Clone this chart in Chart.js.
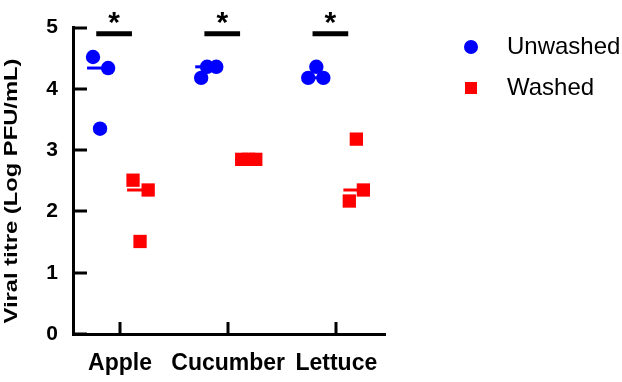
<!DOCTYPE html>
<html>
<head>
<meta charset="utf-8">
<script src="https://cdn.jsdelivr.net/npm/chart.js@4/dist/chart.umd.min.js"></script>
<style>
  html, body { margin: 0; padding: 0; background: #fff; }
  #wrap { width: 622px; height: 382px; }
</style>
</head>
<body>
<div id="wrap"><canvas id="c" width="622" height="382"></canvas></div>
<script>
// ---- data ----
const categories = ['Apple', 'Cucumber', 'Lettuce'];
const yTickValues = [0, 1, 2, 3, 4, 5];
const seriesNames = ['Unwashed', 'Washed'];
const unwashedApple = [4.52, 4.34, 3.35];
const unwashedCucumber = [4.36, 4.36, 4.18];
const unwashedLettuce = [4.36, 4.18, 4.18];
const washedApple = [2.51, 2.35, 1.51];
const washedCucumber = [2.85, 2.85, 2.85];
const washedLettuce = [3.18, 2.35, 2.17];
const significance = ['*', '*', '*'];
const significanceLevel = 4.9;

// ---- layout (jitter of points within each group, in category units) ----
const unwashedJitter = [[-0.25, -0.11, -0.185], [-0.195, -0.11, -0.25], [-0.185, -0.26, -0.12]];
const washedJitter = [[0.12, 0.26, 0.185], [0.125, 0.19, 0.255], [0.185, 0.25, 0.12]];
const groupOffset = 0.185;
const medianHalf = 0.12;
const barFrom = -0.22, barTo = 0.11;

const BLUE = '#0000FF', RED = '#FF0000';
const FONT = '"Liberation Sans", Arial, Helvetica, sans-serif';

const unwashed = [unwashedApple, unwashedCucumber, unwashedLettuce];
const washed = [washedApple, washedCucumber, washedLettuce];

function median(arr) {
  const s = arr.slice().sort((a, b) => a - b);
  const m = Math.floor(s.length / 2);
  return s.length % 2 ? s[m] : (s[m - 1] + s[m]) / 2;
}
function pts(groups, jit) {
  const out = [];
  groups.forEach((g, i) => g.forEach((v, j) => out.push({ x: i + 1 + jit[i][j], y: v })));
  return out;
}

const datasets = [
  {
    label: seriesNames[0], data: pts(unwashed, unwashedJitter),
    pointStyle: 'circle', pointRadius: 7.2, pointHoverRadius: 7.2,
    backgroundColor: BLUE, borderColor: BLUE, borderWidth: 0, showLine: false, order: 0, clip: false
  },
  {
    label: seriesNames[1], data: pts(washed, washedJitter),
    pointStyle: 'rect', pointRadius: 9.4, pointHoverRadius: 9.4,
    backgroundColor: RED, borderColor: RED, borderWidth: 0, showLine: false, order: 0, clip: false
  }
];
// median lines and significance bars
categories.forEach((c, i) => {
  const mu = median(unwashed[i]);
  const mw = median(washed[i]);
  datasets.push({
    label: 'median-u', data: [{ x: i + 1 - groupOffset - medianHalf, y: mu }, { x: i + 1 - groupOffset + medianHalf, y: mu }],
    showLine: true, borderColor: BLUE, borderWidth: 3, pointRadius: 0, order: 1, clip: false
  });
  datasets.push({
    label: 'median-w', data: [{ x: i + 1 + groupOffset - medianHalf, y: mw }, { x: i + 1 + groupOffset + medianHalf, y: mw }],
    showLine: true, borderColor: RED, borderWidth: 3, pointRadius: 0, order: 1, clip: false
  });
  datasets.push({
    label: 'sig', data: [{ x: i + 1 + barFrom, y: significanceLevel }, { x: i + 1 + barTo, y: significanceLevel }],
    showLine: true, borderColor: '#000', borderWidth: 5, borderCapStyle: 'butt', pointRadius: 0, order: 1, clip: false
  });
});

const decorPlugin = {
  id: 'decor',
  afterDraw(chart) {
    const ctx = chart.ctx;
    const xs = chart.scales.x, ys = chart.scales.y;
    const left = chart.chartArea.left, bottom = chart.chartArea.bottom;
    ctx.save();
    ctx.strokeStyle = '#000';
    ctx.lineWidth = 3;
    ctx.lineCap = 'butt';
    // inward ticks on y
    yTickValues.forEach(v => {
      const y = Math.round(ys.getPixelForValue(v));
      ctx.beginPath(); ctx.moveTo(left, y); ctx.lineTo(left + 14, y); ctx.stroke();
    });
    // inward ticks on x
    categories.forEach((c, i) => {
      const x = Math.round(xs.getPixelForValue(i + 1));
      ctx.beginPath(); ctx.moveTo(x, bottom); ctx.lineTo(x, bottom - 12); ctx.stroke();
    });
    // asterisks
    ctx.fillStyle = '#000';
    ctx.font = 'bold 30px ' + FONT;
    ctx.textAlign = 'center';
    ctx.textBaseline = 'alphabetic';
    significance.forEach((s, i) => {
      const x = xs.getPixelForValue(i + 1 + (barFrom + barTo) / 2);
      const y = ys.getPixelForValue(significanceLevel);
      ctx.fillText(s, x, y - 2);
    });
    // y-axis title
    ctx.save();
    ctx.translate(12, 191);
    ctx.rotate(-Math.PI / 2);
    ctx.font = 'bold 19px ' + FONT;
    const title = 'Viral titre (Log PFU/mL)';
    const w = ctx.measureText(title).width;
    ctx.scale(265 / w, 1);
    ctx.textAlign = 'center';
    ctx.textBaseline = 'middle';
    ctx.fillText(title, 0, 0);
    ctx.restore();
    // legend
    const ds0 = chart.data.datasets[0], ds1 = chart.data.datasets[1];
    ctx.font = '24px ' + FONT;
    ctx.textAlign = 'left';
    ctx.textBaseline = 'middle';
    ctx.fillStyle = ds0.backgroundColor;
    ctx.beginPath(); ctx.arc(471, 47, 7, 0, Math.PI * 2); ctx.fill();
    ctx.fillStyle = '#000';
    ctx.fillText(ds0.label, 507, 47);
    ctx.fillStyle = ds1.backgroundColor;
    ctx.fillRect(465, 82, 12, 12);
    ctx.fillStyle = '#000';
    ctx.fillText(ds1.label, 507, 88);
    ctx.restore();
  }
};

new Chart(document.getElementById('c'), {
  type: 'scatter',
  data: { datasets },
  options: {
    responsive: false,
    animation: false,
    layout: { padding: { left: 0, top: 25, right: 237, bottom: 0 } },
    plugins: { legend: { display: false }, tooltip: { enabled: false } },
    scales: {
      x: {
        type: 'linear', min: 0.565, max: 3.45,
        afterBuildTicks: (axis) => { axis.ticks = categories.map((c, i) => ({ value: i + 1 })); },
        afterFit: (s) => { s.height = 48; },
        grid: { display: false, drawTicks: false },
        border: { display: true, color: '#000', width: 3 },
        ticks: {
          padding: 16, color: '#000', font: { family: FONT, size: 23, weight: 'bold' },
          maxRotation: 0, autoSkip: false,
          callback: (v) => categories[v - 1] || ''
        }
      },
      y: {
        type: 'linear', min: 0, max: 5,
        afterBuildTicks: (axis) => { axis.ticks = yTickValues.map(v => ({ value: v })); },
        afterFit: (s) => { s.width = 73; },
        grid: { display: false, drawTicks: false },
        border: { display: true, color: '#000', width: 3 },
        ticks: {
          padding: 15, color: '#000', font: { family: FONT, size: 21, weight: 'bold' },
          callback: (v) => String(v)
        }
      }
    }
  },
  plugins: [decorPlugin]
});
</script>
</body>
</html>
